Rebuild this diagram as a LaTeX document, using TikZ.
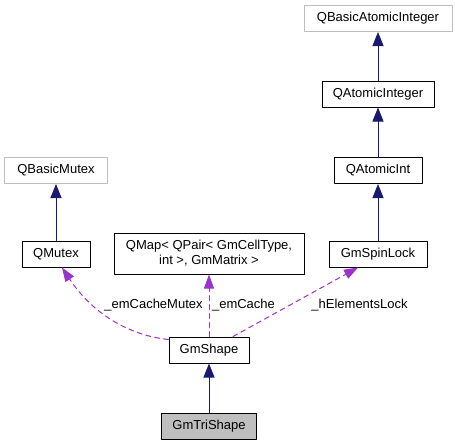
\documentclass[tikz,border=0pt]{standalone}
\usepackage{fontspec}
\setmainfont{Liberation Sans}
\usetikzlibrary{arrows.meta}
\definecolor{navy}{HTML}{191970}
\definecolor{orchid}{HTML}{9A32CD}
\definecolor{boxgray}{HTML}{BFBFBF}
\begin{document}
\begin{tikzpicture}[line cap=round,line join=round,x=1pt,y=-1pt,
  cls/.style={draw=black,line width=1pt,inner sep=0pt,minimum height=26pt,align=center,font=\fontsize{13}{15}\selectfont},
  ext/.style={cls,draw=boxgray},
  inh/.style={draw=navy,line width=1pt,-{Triangle[length=14pt,width=11pt,fill=navy]}},
  use/.style={draw=orchid,line width=1pt,dash pattern=on 5pt off 4pt,-{Triangle[length=14pt,width=10pt,fill=orchid]}},
  lbl/.style={inner sep=0pt,font=\fontsize{13}{15}\selectfont}]
\useasboundingbox (0,0) rectangle (455,445);
\node[ext,minimum width=148pt] (qbasicatomicinteger) at (378,18.5) {QBasicAtomicInteger};
\node[cls,minimum width=112pt] (qatomicinteger) at (378,94) {QAtomicInteger};
\node[cls,minimum width=88pt] (qatomicint) at (378,170.5) {QAtomicInt};
\node[ext,minimum width=103pt] (qbasicmutex) at (56,170.5) {QBasicMutex};
\node[cls,minimum width=68pt] (qmutex) at (56,254) {QMutex};
\node[cls,minimum width=190pt,minimum height=41pt] (qmap) at (209,253.5) {QMap< QPair< GmCellType,\\int >, GmMatrix >};
\node[cls,minimum width=98pt] (gmspinlock) at (378,254) {GmSpinLock};
\node[cls,minimum width=80pt] (gmshape) at (209,350) {GmShape};
\node[cls,fill=boxgray,minimum width=95pt] (gmtrishape) at (209,426) {GmTriShape};
\draw[inh] (qatomicinteger) -- (qbasicatomicinteger);
\draw[inh] (qatomicint) -- (qatomicinteger);
\draw[inh] (gmspinlock) -- (qatomicint);
\draw[inh] (qmutex) -- (qbasicmutex);
\draw[inh] (gmtrishape) -- (gmshape);
\draw[use] ([yshift=-3pt]gmshape.north west) .. controls (125,335) and (90,310) .. ([xshift=6pt]qmutex.south);
\draw[use] (gmshape) -- (qmap);
\draw[use] ([xshift=24pt]gmshape.north) -- ([xshift=-20pt]gmspinlock.south);
\node[lbl] (lblmutex) at (153.5,305) {\_emCacheMutex};
\node[lbl] (lblcache) at (243.5,305) {\_emCache};
\node[lbl] (lbllock) at (359.5,305) {\_hElementsLock};
\end{tikzpicture}
\end{document}
